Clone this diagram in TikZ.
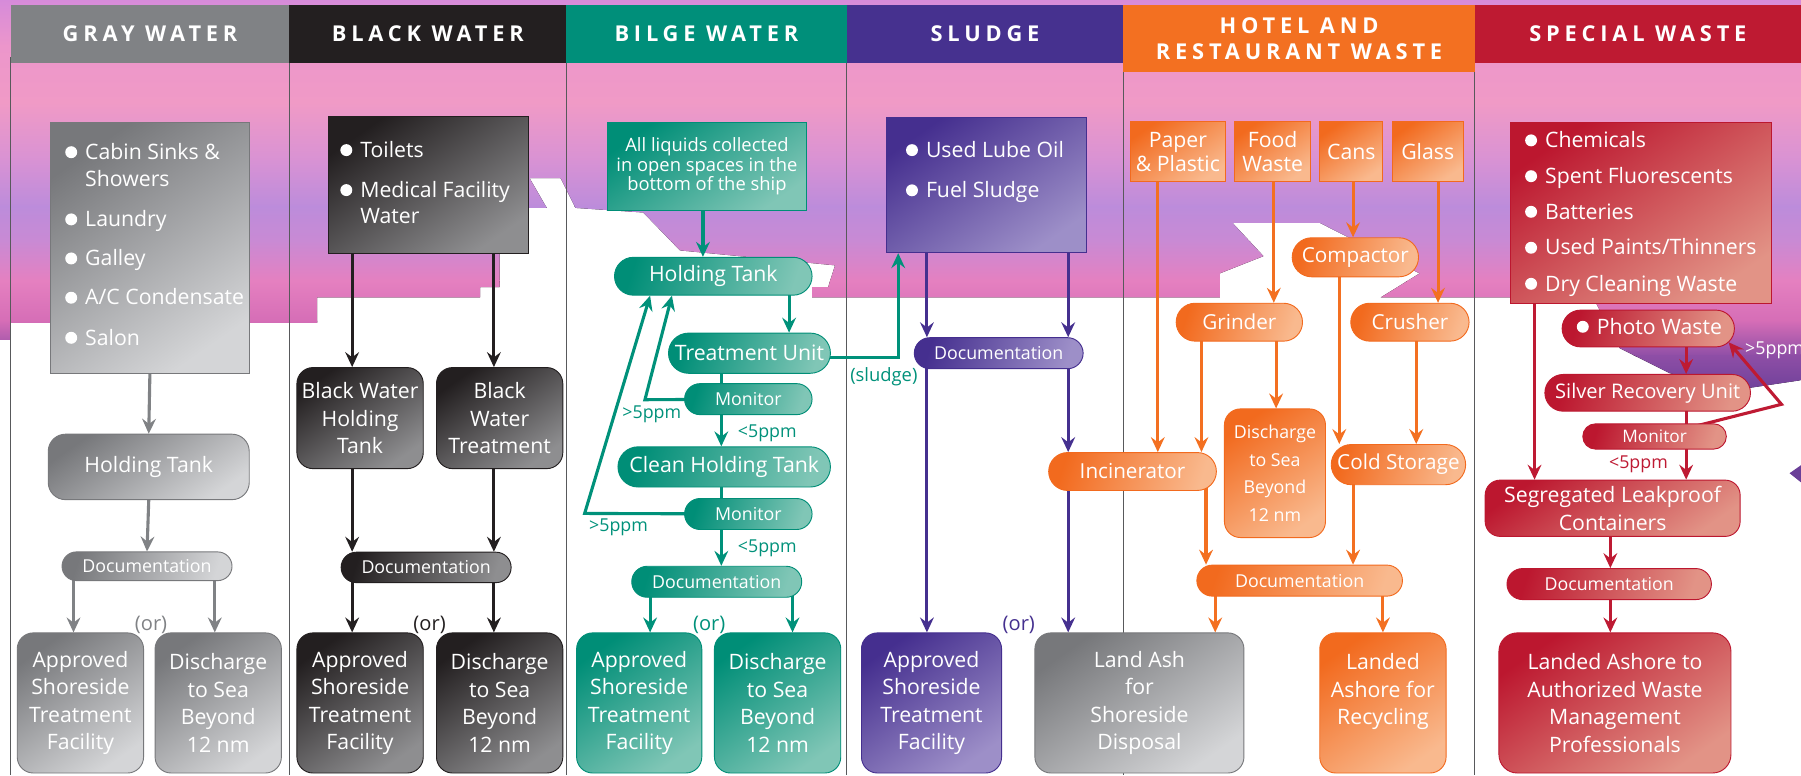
\documentclass[tikz,border=0pt]{standalone}
\usepackage{fontspec}
\setmainfont{Open Sans}
\newfontfamily\hdrfont[LetterSpace=22]{Open Sans}
\usetikzlibrary{arrows.meta}
\pgfdeclarelayer{back}
\pgfdeclarelayer{mid}
\pgfsetlayers{back,mid,main}
% box colours (dark / light)
\definecolor{gD}{HTML}{77787B}\definecolor{gL}{HTML}{D4D5D7}
\definecolor{kD}{HTML}{231F20}\definecolor{kL}{HTML}{8E8E90}
\definecolor{tD}{HTML}{008E77}\definecolor{tL}{HTML}{80C6B6}
\definecolor{pD}{HTML}{452F8F}\definecolor{pL}{HTML}{9D8FC8}
\definecolor{oD}{HTML}{F26A1E}\definecolor{oL}{HTML}{F9B98E}
\definecolor{rD}{HTML}{BC172F}\definecolor{rL}{HTML}{E29386}
% headers
\definecolor{hG}{HTML}{808285}\definecolor{hK}{HTML}{231F20}
\definecolor{hT}{HTML}{008F7A}\definecolor{hP}{HTML}{46318F}
\definecolor{hO}{HTML}{F37021}\definecolor{hR}{HTML}{BE1A32}
% arrows
\definecolor{aG}{HTML}{808285}\definecolor{aK}{HTML}{231F20}
\definecolor{aT}{HTML}{00917A}\definecolor{aP}{HTML}{45308F}
\definecolor{aO}{HTML}{F37021}\definecolor{aR}{HTML}{BE1A33}
\definecolor{sepc}{HTML}{58595B}
% sky
\definecolor{sk0}{HTML}{D68BDA}\definecolor{sk1}{HTML}{EC96CB}
\definecolor{sk2}{HTML}{F09AC6}\definecolor{sk3}{HTML}{D892D4}
\definecolor{sk4}{HTML}{BC8CDB}\definecolor{sk5}{HTML}{C98AD4}
\definecolor{sk6}{HTML}{E580C0}\definecolor{sk7}{HTML}{D56DB6}
\definecolor{sk8}{HTML}{8E4EA6}\definecolor{sk9}{HTML}{6A3F98}
% fonts
\newcommand\fsA{\fontsize{18.5}{24}\selectfont}
\newcommand\fsT{\fontsize{18.5}{21}\selectfont}
\newcommand\fsP{\fontsize{18}{22}\selectfont}
\newcommand\fsS{\fontsize{17.5}{22}\selectfont}
\newcommand\fsB{\fontsize{15.5}{18}\selectfont}
\newcommand\fsM{\fontsize{15}{18}\selectfont}
\newcommand\fsD{\fontsize{15.5}{24}\selectfont}
\newcommand\fsC{\fontsize{16}{17}\selectfont}
\newcommand\fsL{\fontsize{17.5}{20}\selectfont}
\newcommand\fsH{\hdrfont\bfseries\fontsize{19}{22.5}\selectfont}
% bullet line: name, x, baseline y, text
\newcommand\bul[4]{%
  \fill[white] (#2-12,#3-6.3) circle[radius=5.2pt];
  \node[txt, anchor=base west] (#1) at (#2,#3) {#4};}
\newcommand\ctext[4]{\node[txt, anchor=base west] (#1) at (#2,#3) {#4};}
\begin{document}
\begin{tikzpicture}[x=1pt,y=-1pt,
  sz/.style 2 args={minimum width=#1pt, minimum height=#2pt},
  bx/.style 2 args={text=white, align=center, inner sep=0pt, font=\fsA,
     top color=#1, bottom color=#2, shading angle=35, draw=#1, line width=0.8pt},
  pill/.style={shading angle=72},
  gbx/.style={bx={gD}{gL}}, kbx/.style={bx={kD}{kL}},
  tbx/.style={bx={tD}{tL}}, pbx/.style={bx={pD}{pL}},
  obx/.style={bx={oD}{oL}}, rbx/.style={bx={rD}{rL}},
  txt/.style={text=white, inner sep=0pt, font=\fsA},
  lbl/.style={inner sep=0pt, font=\fsL},
  hdr/.style={text=white, font=\fsH, align=center, inner sep=0pt},
  arr/.style={line width=2.7pt, -{Stealth[length=13pt,width=12pt,inset=4.5pt]}},
  lnk/.style={line width=2.7pt},
  gar/.style={arr, draw=aG}, kar/.style={arr, draw=aK},
  tar/.style={arr, draw=aT}, par/.style={arr, draw=aP},
  oar/.style={arr, draw=aO}, rar/.style={arr, draw=aR},
  tln/.style={lnk, draw=aT}, rln/.style={lnk, draw=aR},
  sepl/.style={draw=sepc, line width=1pt}]
\useasboundingbox (0,0) rectangle (1568,675);

% ---------------- background sky ----------------
\begin{pgfonlayer}{back}
\begin{scope}
\clip (0,0) -- (1568,0) -- (1568,331) -- (1521,338) -- (1454,325) -- (1410,303)
  -- (1387,259) -- (1202,259) -- (1236,238) -- (1149,194) -- (1073,194)
  -- (1100,223) -- (1062,238) -- (1062,259) -- (707,259) -- (707,250)
  -- (721,250) -- (727,231) -- (592,218) -- (560,185) -- (501,181)
  -- (488,155) -- (461,155) -- (476,181) -- (460,181) -- (460,221)
  -- (435,221) -- (435,250) -- (418,250) -- (418,259) -- (276,259)
  -- (276,281) -- (9,281) -- (9,296) -- (0,296) -- cycle;
\foreach \ya/\yb/\ca/\cb in {0/40/sk0/sk1, 40/90/sk1/sk2, 90/140/sk2/sk3,
   140/180/sk3/sk4, 180/210/sk4/sk5, 210/245/sk5/sk6, 245/280/sk6/sk7,
   280/310/sk7/sk8, 310/345/sk8/sk9}
  {\fill[top color=\ca, bottom color=\cb] (0,\ya-0.6) rectangle (1568,\yb+0.6);}
\end{scope}
\fill[sk9] (1558,412) -- (1568,405) -- (1568,420) -- cycle;
\draw[sepl] (9.3,50) -- (9.3,675);
\draw[sepl] (252,50) -- (252,675);
\draw[sepl] (493,50) -- (493,675);
\draw[sepl] (737,50) -- (737,675);
\draw[sepl] (978,50) -- (978,675);
\draw[sepl] (1284,50) -- (1284,675);
\end{pgfonlayer}

% ---------------- headers ----------------
\node[hdr, fill=hG, sz={242.7}{50.6}] (hgray) at (130.65,29.7) {GRAY WATER};
\node[hdr, fill=hK, sz={241}{50.6}] (hblack) at (372.5,29.7) {BLACK WATER};
\node[hdr, fill=hT, sz={244}{50.6}] (hbilge) at (615,29.7) {BILGE WATER};
\node[hdr, fill=hP, sz={241}{50.6}] (hsludge) at (857.5,29.7) {SLUDGE};
\node[hdr, fill=hO, sz={306}{58.6}] (hhotel) at (1131,33.7) {HOTEL AND\\RESTAURANT WASTE};
\node[hdr, fill=hR, sz={284}{50.6}] (hspecial) at (1426,29.7) {SPECIAL WASTE};

% ---------------- gray water ----------------
\node[gbx, sz={173}{218}] (gsrc) at (130.5,216) {};
\bul{gt1}{74}{138.8}{Cabin Sinks \&}
\ctext{gt1b}{74}{162.5}{Showers}
\bul{gt2}{74}{197.3}{Laundry}
\bul{gt3}{74}{231.3}{Galley}
\bul{gt4}{74}{265.5}{A/C Condensate}
\bul{gt5}{74}{300.4}{Salon}
\node[gbx, sz={175}{57}, rounded corners=15pt] (ght) at (129.5,406.5) {Holding Tank};
\node[gbx, pill, sz={148}{25}, rounded corners=12.5pt, font=\fsB] (gdoc) at (128,493) {Documentation};
\node[gbx, sz={110}{122}, rounded corners=14pt] (gapp) at (70,612) {Approved\\Shoreside\\Treatment\\Facility};
\node[gbx, sz={110}{122}, rounded corners=14pt] (gdis) at (190,612) {Discharge\\to Sea\\Beyond\\12 nm};
\node[lbl, text=aG] (gor) at (131.5,544) {(or)};
\coordinate (gx1) at (64,0);
\coordinate (gx2) at (187,0);

% ---------------- black water ----------------
\node[kbx, sz={174}{120}] (bsrc) at (373,161) {};
\bul{bt1}{313.5}{137}{Toilets}
\bul{bt2}{313.5}{171.8}{Medical Facility}
\ctext{bt2b}{313.5}{195}{Water}
\node[kbx, sz={110}{88}, rounded corners=14pt] (bhold) at (313.5,364) {Black Water\\Holding\\Tank};
\node[kbx, sz={110}{88}, rounded corners=14pt] (btreat) at (435,364) {Black\\Water\\Treatment};
\node[kbx, pill, sz={148}{26.5}, rounded corners=13.2pt, font=\fsB] (bdoc) at (371,494) {Documentation};
\node[kbx, sz={110}{122}, rounded corners=14pt] (bapp) at (313.5,612) {Approved\\Shoreside\\Treatment\\Facility};
\node[kbx, sz={110}{122}, rounded corners=14pt] (bdis) at (435,612) {Discharge\\to Sea\\Beyond\\12 nm};
\node[lbl, text=aK] (bor) at (374,544) {(or)};
\coordinate (bx1) at (306.6,0);
\coordinate (bx2) at (430,0);

% ---------------- bilge water ----------------
\node[tbx, sz={174}{76.5}, font=\fsC] (isrc) at (615.5,145) {All liquids collected\\in open spaces in the\\bottom of the ship};
\node[tbx, pill, sz={172}{33}, rounded corners=16.5pt] (iht) at (621,240.5) {Holding Tank};
\node[tbx, pill, sz={141}{35}, rounded corners=17.5pt] (itu) at (652.5,307.5) {Treatment Unit};
\node[tbx, pill, sz={111}{27}, rounded corners=13.5pt, font=\fsB] (imon1) at (651.5,347.5) {Monitor};
\node[tbx, pill, sz={185}{35}, rounded corners=17.5pt] (ichk) at (630.5,406.5) {Clean Holding Tank};
\node[tbx, pill, sz={111}{27}, rounded corners=13.5pt, font=\fsB] (imon2) at (651.5,447.5) {Monitor};
\node[tbx, pill, sz={148}{27}, rounded corners=13.5pt, font=\fsB] (idoc) at (624,506.5) {Documentation};
\node[tbx, sz={109}{122}, rounded corners=14pt] (iapp) at (556.5,612) {Approved\\Shoreside\\Treatment\\Facility};
\node[tbx, sz={110}{122}, rounded corners=14pt] (idis) at (677,612) {Discharge\\to Sea\\Beyond\\12 nm};
\node[lbl, text=aT, font=\fsB] (ig1) at (567.5,361) {>5ppm};
\node[lbl, text=aT, font=\fsB] (ig2) at (538.5,459) {>5ppm};
\node[lbl, text=aT, font=\fsB] (il1) at (668,377) {<5ppm};
\node[lbl, text=aT, font=\fsB] (il2) at (668,477.5) {<5ppm};
\node[lbl, text=aT, font=\fsC] (isludge) at (769.5,328) {(sludge)};
\node[lbl, text=aT] (ior) at (617.5,544) {(or)};
\coordinate (ix0) at (612,0);
\coordinate (ix1) at (687,0);
\coordinate (ix2) at (628,0);
\coordinate (ix3) at (566,0);
\coordinate (ix4) at (690,0);
\coordinate (ifb1) at (561.5,348);
\coordinate (ifb2) at (509,447);
\coordinate (ihx1) at (585,0);
\coordinate (ihx2) at (566,0);
\coordinate (isl1) at (700,311.5);
\coordinate (isl2) at (782,311.5);

% ---------------- sludge ----------------
\node[pbx, sz={174}{118}] (ssrc) at (859,161) {};
\bul{st1}{806}{137}{Used Lube Oil}
\bul{st2}{806}{172}{Fuel Sludge}
\node[pbx, pill, sz={147}{27}, rounded corners=13.5pt, font=\fsB] (sdoc) at (869.5,307.5) {Documentation};
\node[pbx, sz={122}{122}, rounded corners=14pt] (sapp) at (811,612) {Approved\\Shoreside\\Treatment\\Facility};
\node[gbx, sz={182}{122}, rounded corners=14pt] (sland) at (992,612) {Land Ash\\for\\Shoreside\\Disposal};
\node[lbl, text=aP] (sor) at (887,544) {(or)};
\coordinate (sx1) at (807,0);
\coordinate (sx2) at (930,0);

% ---------------- hotel and restaurant ----------------
\node[obx, sz={83}{52}, font=\fsT] (hpap) at (1025.5,132) {Paper\\\& Plastic};
\node[obx, sz={66}{52}, font=\fsT] (hfood) at (1108,132) {Food\\Waste};
\node[obx, sz={55}{52}] (hcans) at (1176.5,132) {Cans};
\node[obx, sz={62}{52}] (hgla) at (1243,132) {Glass};
\node[obx, pill, sz={110}{34}, rounded corners=17pt, font=\fsP] (hcomp) at (1180,224) {Compactor};
\node[obx, pill, sz={110}{33}, rounded corners=16.5pt, font=\fsP] (hgri) at (1079,280.5) {Grinder};
\node[obx, pill, sz={103}{33}, rounded corners=16.5pt, font=\fsP] (hcru) at (1227.5,280.5) {Crusher};
\node[obx, sz={88}{112}, rounded corners=14pt, font=\fsD] (hdis) at (1110,412) {Discharge\\to Sea\\Beyond\\12 nm};
\node[obx, pill, sz={117}{35}, rounded corners=17.5pt, font=\fsP] (hcold) at (1217.5,404.5) {Cold Storage};
\node[obx, pill, sz={146}{33}, rounded corners=16.5pt, font=\fsP] (hinc) at (986,410.5) {Incinerator};
\node[obx, pill, sz={179}{27}, rounded corners=13.5pt, font=\fsB] (hdoc) at (1131.5,505.5) {Documentation};
\node[obx, sz={110}{122}, rounded corners=14pt] (hland) at (1204,612) {Landed\\Ashore for\\Recycling\\\mbox{}};
\coordinate (hx1) at (1008,0);
\coordinate (hx2) at (1109,0);
\coordinate (hx3) at (1178,0);
\coordinate (hx4) at (1252,0);
\coordinate (hx5) at (1046,0);
\coordinate (hx6) at (1111,0);
\coordinate (hx7) at (1166,0);
\coordinate (hx8) at (1233,0);
\coordinate (hx9) at (1050,0);
\coordinate (hx10) at (1178,0);
\coordinate (hx11) at (1058,0);
\coordinate (hx12) at (1204,0);

% ---------------- special waste ----------------
\node[rbx, sz={227}{157}] (xsrc) at (1428.5,185.5) {};
\bul{xt1}{1345}{128.5}{Chemicals}
\bul{xt2}{1345}{159.7}{Spent Fluorescents}
\bul{xt3}{1345}{190.7}{Batteries}
\bul{xt4}{1345}{222}{Used Paints/Thinners}
\bul{xt5}{1345}{253.4}{Dry Cleaning Waste}
\node[rbx, pill, sz={150}{32}, rounded corners=16pt] (xpho) at (1435,286) {};
\bul{xpt}{1390}{290.8}{Photo Waste}
\node[rbx, pill, sz={179}{32}, rounded corners=16pt, font=\fsS] (xsil) at (1434.5,342) {Silver Recovery Unit};
\node[rbx, pill, sz={125}{22}, rounded corners=11pt, font=\fsM] (xmon) at (1440.5,380) {Monitor};
\node[rbx, sz={222}{49}, rounded corners=13pt] (xseg) at (1404,442.5) {Segregated Leakproof\\Containers};
\node[rbx, pill, sz={178}{27}, rounded corners=13.5pt, font=\fsB] (xdoc) at (1401,508.5) {Documentation};
\node[rbx, sz={202}{122}, rounded corners=16pt] (xland) at (1406,612) {Landed Ashore to\\Authorized Waste\\Management\\Professionals};
\node[lbl, text=white, font=\fsB] (xg) at (1545,305) {>5ppm};
\node[lbl, text=aR, font=\fsB] (xl) at (1426.5,404.5) {<5ppm};
\coordinate (xx1) at (1336,0);
\coordinate (xx2) at (1468,0);
\coordinate (xx3) at (1402,0);
\coordinate (xfb) at (1551,352);
\coordinate (xtip) at (1505,298);

% ---------------- connectors ----------------
\begin{pgfonlayer}{mid}
% gray
\draw[gar] (gsrc.south) -- (ght.north);
\draw[gar] (ght.south) -- (gdoc.north);
\draw[gar] (gdoc.center -| gx1) -- (gapp.north -| gx1);
\draw[gar] (gdoc.center -| gx2) -- (gdis.north -| gx2);
% black
\draw[kar] (bsrc.center -| bx1) -- (bhold.north -| bx1);
\draw[kar] (bsrc.center -| bx2) -- (btreat.north -| bx2);
\draw[kar] (bhold.center -| bx1) -- (bdoc.north -| bx1);
\draw[kar] (btreat.center -| bx2) -- (bdoc.north -| bx2);
\draw[kar] (bdoc.center -| bx1) -- (bapp.north -| bx1);
\draw[kar] (bdoc.center -| bx2) -- (bdis.north -| bx2);
% bilge
\draw[tar] (isrc.center -| ix0) -- (iht.north -| ix0);
\draw[tar] (iht.center -| ix1) -- (itu.north -| ix1);
\draw[tln] (itu.center -| ix2) -- (imon1.center -| ix2);
\draw[tar] (imon1.center -| ix2) -- (ichk.north -| ix2);
\draw[tln] (ichk.center -| ix2) -- (imon2.center -| ix2);
\draw[tar] (imon2.center -| ix2) -- (idoc.north -| ix2);
\draw[tar] (idoc.center -| ix3) -- (iapp.north -| ix3);
\draw[tar] (idoc.center -| ix4) -- (idis.north -| ix4);
\draw[tar] (imon1.center) -- (ifb1) -- (iht.south -| ihx1);
\draw[tar] (imon2.center) -- (ifb2) -- (iht.south -| ihx2);
\draw[tar] (isl1) -- (isl2) -- (ssrc.south -| isl2);
% sludge
\draw[par] (ssrc.center -| sx1) -- (sdoc.north -| sx1);
\draw[par] (ssrc.center -| sx2) -- (sdoc.north -| sx2);
\draw[par] (sdoc.center -| sx1) -- (sapp.north -| sx1);
\draw[par] (sdoc.center -| sx2) -- (hinc.north -| sx2);
\draw[par] (hinc.center -| sx2) -- (sland.north -| sx2);
% hotel
\draw[oar] (hpap.center -| hx1) -- (hinc.north -| hx1);
\draw[oar] (hfood.center -| hx2) -- (hgri.north -| hx2);
\draw[oar] (hcans.center -| hx3) -- (hcomp.north -| hx3);
\draw[oar] (hgla.center -| hx4) -- (hcru.north -| hx4);
\draw[oar] (hgri.center -| hx5) -- (hinc.north -| hx5);
\draw[oar] (hgri.center -| hx6) -- (hdis.north -| hx6);
\draw[oar] (hcomp.center -| hx7) -- (hcold.north -| hx7);
\draw[oar] (hcru.center -| hx8) -- (hcold.north -| hx8);
\draw[oar] (hinc.center -| hx9) -- (hdoc.north -| hx9);
\draw[oar] (hcold.center -| hx10) -- (hdoc.north -| hx10);
\draw[oar] (hdoc.center -| hx11) -- (sland.north -| hx11);
\draw[oar] (hdoc.center -| hx12) -- (hland.north -| hx12);
% special
\draw[rar] (xsrc.center -| xx1) -- (xseg.north -| xx1);
\draw[rar] (xpho.center -| xx2) -- (xsil.north -| xx2);
\draw[rln] (xsil.center -| xx2) -- (xmon.center -| xx2);
\draw[rar] (xmon.center -| xx2) -- (xseg.north -| xx2);
\draw[rar] (xmon.center) -- (xfb) -- (xtip);
\draw[rar] (xseg.center -| xx3) -- (xdoc.north -| xx3);
\draw[rar] (xdoc.center -| xx3) -- (xland.north -| xx3);
\end{pgfonlayer}
\end{tikzpicture}
\end{document}
